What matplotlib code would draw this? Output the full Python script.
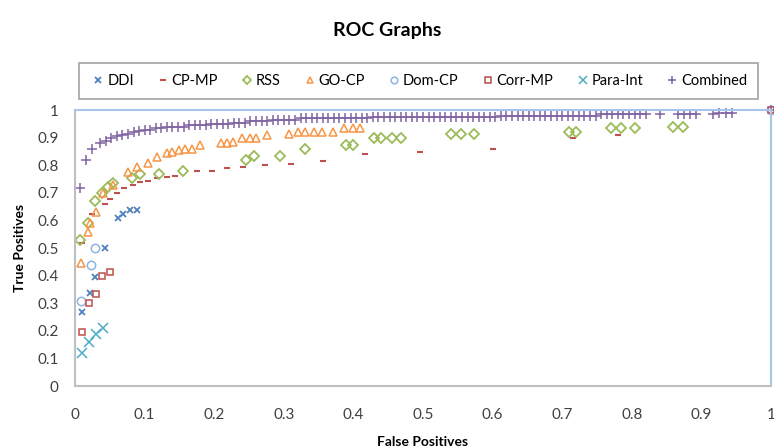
import matplotlib.pyplot as plt

plt.rcParams['font.family'] = ['Lato', 'DejaVu Sans']

# DDI
ddi_x = [0.010, 0.022, 0.029, 0.043, 0.062, 0.069, 0.079, 0.089]
ddi_y = [0.27, 0.337, 0.395, 0.50, 0.61, 0.625, 0.637, 0.64]

# CP-MP
cpmp_x = [0.010, 0.024, 0.043, 0.050, 0.060, 0.070, 0.083, 0.093, 0.105, 0.118, 0.132, 0.144,
          0.175, 0.197, 0.218, 0.242, 0.273, 0.310, 0.357, 0.417, 0.496, 0.600, 0.716, 0.780]
cpmp_y = [0.52, 0.625, 0.66, 0.68, 0.70, 0.717, 0.73, 0.74, 0.745, 0.753, 0.757, 0.76,
          0.78, 0.78, 0.79, 0.795, 0.80, 0.805, 0.815, 0.84, 0.85, 0.86, 0.90, 0.91]

# RSS
rss_x = [0.007, 0.019, 0.029, 0.039, 0.048, 0.055, 0.082, 0.094, 0.120, 0.155, 0.245, 0.257,
         0.295, 0.330, 0.390, 0.400, 0.430, 0.440, 0.455, 0.468, 0.540, 0.554, 0.573, 0.710,
         0.720, 0.770, 0.785, 0.805, 0.860, 0.873]
rss_y = [0.53, 0.59, 0.67, 0.70, 0.72, 0.735, 0.755, 0.77, 0.77, 0.78, 0.82, 0.835,
         0.835, 0.86, 0.875, 0.875, 0.90, 0.90, 0.90, 0.90, 0.915, 0.915, 0.915, 0.92,
         0.92, 0.935, 0.935, 0.935, 0.94, 0.94]

# GO-CP
gocp_x = [0.008, 0.019, 0.022, 0.030, 0.040, 0.055, 0.076, 0.089, 0.105, 0.118, 0.132, 0.140,
          0.149, 0.158, 0.168, 0.180, 0.209, 0.218, 0.227, 0.240, 0.252, 0.260, 0.276, 0.307,
          0.320, 0.330, 0.343, 0.355, 0.370, 0.386, 0.400, 0.410]
gocp_y = [0.445, 0.56, 0.59, 0.63, 0.70, 0.73, 0.775, 0.795, 0.81, 0.83, 0.845, 0.85,
          0.855, 0.86, 0.86, 0.873, 0.88, 0.88, 0.885, 0.90, 0.90, 0.90, 0.91, 0.915,
          0.92, 0.92, 0.92, 0.92, 0.92, 0.935, 0.935, 0.935]

# Dom-CP
domcp_x = [0.008, 0.023, 0.029, 1.0]
domcp_y = [0.31, 0.44, 0.50, 1.0]

# Corr-MP
corrmp_x = [0.010, 0.020, 0.030, 0.039, 0.050, 1.0]
corrmp_y = [0.195, 0.30, 0.333, 0.40, 0.415, 1.0]

# Para-Int
para_x = [0.010, 0.020, 0.030, 0.040]
para_y = [0.12, 0.16, 0.19, 0.21]

# Combined
comb_x = [0.007, 0.015, 0.025, 0.036, 0.044, 0.052, 0.060, 0.068, 0.076, 0.084, 0.092, 0.100,
          0.108, 0.116, 0.124, 0.132, 0.140, 0.148, 0.156, 0.164, 0.172, 0.180, 0.188, 0.196,
          0.204, 0.212, 0.220, 0.228, 0.236, 0.244, 0.252, 0.260, 0.268, 0.276, 0.284, 0.292,
          0.300, 0.308, 0.316, 0.324, 0.332, 0.340, 0.348, 0.356, 0.364, 0.372, 0.380, 0.388,
          0.396, 0.404, 0.412, 0.420, 0.428, 0.436, 0.444, 0.452, 0.460, 0.468, 0.476, 0.484,
          0.492, 0.500, 0.508, 0.516, 0.524, 0.532, 0.540, 0.548, 0.556, 0.564, 0.572, 0.580,
          0.588, 0.596, 0.604, 0.612, 0.620, 0.628, 0.636, 0.644, 0.652, 0.660, 0.668, 0.676,
          0.684, 0.692, 0.700, 0.708, 0.716, 0.724, 0.732, 0.740, 0.748, 0.756, 0.764, 0.772,
          0.780, 0.788, 0.796, 0.804, 0.812, 0.820, 0.840, 0.866, 0.875, 0.884, 0.893, 0.917,
          0.926, 0.935, 0.944, 1.0]
comb_y = [0.717, 0.82, 0.86, 0.88, 0.89, 0.90, 0.905, 0.91, 0.915, 0.92, 0.925, 0.93,
          0.93, 0.935, 0.935, 0.94, 0.94, 0.94, 0.94, 0.945, 0.945, 0.945, 0.945, 0.95,
          0.95, 0.95, 0.95, 0.955, 0.955, 0.955, 0.96, 0.96, 0.96, 0.96, 0.965, 0.965,
          0.965, 0.965, 0.965, 0.97, 0.97, 0.97, 0.97, 0.97, 0.97, 0.97, 0.97, 0.97,
          0.97, 0.97, 0.97, 0.97, 0.975, 0.975, 0.975, 0.975, 0.975, 0.975, 0.975, 0.975,
          0.975, 0.975, 0.975, 0.975, 0.975, 0.975, 0.975, 0.975, 0.975, 0.975, 0.975, 0.975,
          0.975, 0.975, 0.975, 0.98, 0.98, 0.98, 0.98, 0.98, 0.98, 0.98, 0.98, 0.98,
          0.98, 0.98, 0.98, 0.98, 0.98, 0.98, 0.98, 0.98, 0.98, 0.985, 0.985, 0.985,
          0.985, 0.985, 0.985, 0.985, 0.985, 0.985, 0.985, 0.985, 0.985, 0.985, 0.985, 0.985,
          0.99, 0.99, 0.99, 1.0]

fig = plt.figure(figsize=(7.74, 4.48), dpi=100)
ax = fig.add_axes([0.097, 0.138, 0.899, 0.616])

ax.plot(ddi_x, ddi_y, 'x', color='#4F81BD', ms=5, mew=1.3, label='DDI', clip_on=False)
ax.plot(cpmp_x, cpmp_y, '_', color='#C0504D', ms=5, mew=1.5, label='CP-MP', clip_on=False)
ax.plot(rss_x, rss_y, 'D', color='#9BBB59', mfc='none', ms=5, mew=1.3, label='RSS', clip_on=False)
ax.plot(gocp_x, gocp_y, '^', color='#F79646', mfc='none', ms=6, mew=1.1, label='GO-CP', clip_on=False)
ax.plot(domcp_x, domcp_y, 'o', color='#8EB4E3', mfc='none', ms=6, mew=1.1, label='Dom-CP', clip_on=False)
ax.plot(corrmp_x, corrmp_y, 's', color='#C0504D', mfc='none', ms=5, mew=1.1, label='Corr-MP', clip_on=False)
ax.plot(para_x, para_y, 'x', color='#4BACC6', ms=7, mew=1.1, label='Para-Int', clip_on=False)
ax.plot(comb_x, comb_y, '+', color='#8064A2', ms=7, mew=1.1, label='Combined', clip_on=False)

ax.set_xlim(0, 1)
ax.set_ylim(0, 1)
ax.set_xticks([i / 10 for i in range(11)])
ax.set_yticks([i / 10 for i in range(11)])
ax.set_xticklabels(['0', '0.1', '0.2', '0.3', '0.4', '0.5', '0.6', '0.7', '0.8', '0.9', '1'])
ax.set_yticklabels(['0', '0.1', '0.2', '0.3', '0.4', '0.5', '0.6', '0.7', '0.8', '0.9', '1'])
ax.tick_params(length=0, labelsize=11, colors='#404040')
ax.tick_params(axis='x', pad=16)
ax.tick_params(axis='y', pad=12)

for s in ['left', 'bottom']:
    ax.spines[s].set_color('#BFBFBF')
    ax.spines[s].set_linewidth(1.5)
for s in ['top', 'right']:
    ax.spines[s].set_color('#A9C4EB')
    ax.spines[s].set_linewidth(1.5)

ax.set_xlabel('False Positives', fontsize=10, fontweight='bold', labelpad=10)
ax.set_ylabel('True Positives', fontsize=10, fontweight='bold', labelpad=8)
fig.suptitle('ROC Graphs', fontsize=14, fontweight='bold', y=0.95)

leg = fig.legend(loc='center', bbox_to_anchor=(0.541, 0.82), ncol=8, fontsize=10.5,
                 frameon=True, fancybox=False, edgecolor='#8C8C8C', handletextpad=0.05,
                 columnspacing=1.45, borderpad=0.75, handlelength=1.1, markerscale=0.8)
leg.get_frame().set_linewidth(1.2)

plt.savefig('out.png', dpi=100)
